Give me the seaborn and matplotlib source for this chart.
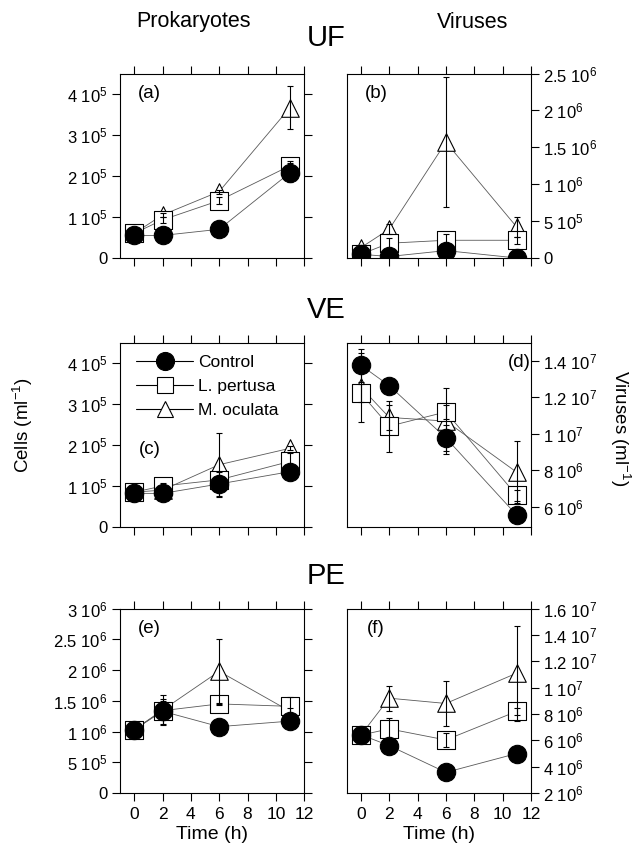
import numpy as np
import pandas as pd
import matplotlib
matplotlib.use('Agg')
import matplotlib.pyplot as plt
from matplotlib.lines import Line2D
import seaborn as sns

# sampling times (h) and treatments
times = [0, 2, 6, 11]
treatments = ['Control', 'L. pertusa', 'M. oculata']

# means / sd per panel, rows = Control, L. pertusa, M. oculata
a_mean = [[5.5e4, 5.5e4, 7.0e4, 2.08e5],
          [6.0e4, 9.3e4, 1.40e5, 2.25e5],
          [6.0e4, 1.05e5, 1.62e5, 3.67e5]]
a_sd = [[3e3, 3e3, 3e3, 2.3e4],
        [3e3, 8e3, 8e3, 1.2e4],
        [3e3, 5e3, 5e3, 5.2e4]]

b_mean = [[5e4, 2e4, 1.0e5, 0],
          [5e4, 2.0e5, 2.4e5, 2.4e5],
          [1.4e5, 3.9e5, 1.57e6, 4.2e5]]
b_sd = [[0, 0, 0, 0],
        [2e4, 7e4, 9e4, 5e4],
        [1e4, 7e4, 8.8e5, 1.3e5]]

c_mean = [[8.2e4, 8.2e4, 1.05e5, 1.35e5],
          [8.5e4, 1.0e5, 1.15e5, 1.60e5],
          [8.5e4, 9.0e4, 1.52e5, 1.92e5]]
c_sd = [[2e3, 2e3, 3e4, 5e3],
        [3e3, 8e3, 1e4, 2e4],
        [3e3, 5e3, 7.8e4, 5e3]]

d_mean = [[1.376e7, 1.264e7, 9.78e6, 5.55e6],
          [1.222e7, 1.042e7, 1.12e7, 6.63e6],
          [1.255e7, 1.09e7, 1.07e7, 7.9e6]]
d_sd = [[9e5, 0, 7e5, 0],
        [5e5, 1.4e6, 4e5, 3e5],
        [1.9e6, 7e5, 1.8e6, 1.7e6]]

e_mean = [[1.03e6, 1.33e6, 1.08e6, 1.17e6],
          [1.03e6, 1.34e6, 1.45e6, 1.41e6],
          [1.03e6, 1.35e6, 1.98e6, 1.33e6]]
e_sd = [[2e4, 2e5, 2e4, 2e4],
        [2e4, 1.5e5, 2e4, 1.5e5],
        [2e4, 2.5e5, 5.3e5, 5e4]]

f_mean = [[6.43e6, 5.6e6, 3.57e6, 5.0e6],
          [6.4e6, 6.87e6, 6.03e6, 8.2e6],
          [6.4e6, 9.2e6, 8.8e6, 1.11e7]]
f_sd = [[0, 0, 0, 0],
        [2e5, 8e5, 5.5e5, 2.5e5],
        [2e5, 9.5e5, 1.7e6, 3.6e6]]

prok_ticks = [0, 1e5, 2e5, 3e5, 4e5]
b_ticks = [0, 5e5, 1e6, 1.5e6, 2e6, 2.5e6]
d_ticks = [6e6, 8e6, 1e7, 1.2e7, 1.4e7]
e_ticks = [0, 5e5, 1e6, 1.5e6, 2e6, 2.5e6, 3e6]
f_ticks = [2e6, 4e6, 6e6, 8e6, 1e7, 1.2e7, 1.4e7, 1.6e7]
x_ticks = [0, 2, 4, 6, 8, 10, 12]


def sci(v):
    if v == 0:
        return '0'
    e = int(np.floor(np.log10(v) + 1e-9))
    return f'{v / 10**e:g} 10$^{{{e}}}$'


sns.set_style('ticks')
plt.rcParams['font.family'] = ['Liberation Sans', 'DejaVu Sans']
plt.rcParams['mathtext.fontset'] = 'custom'
plt.rcParams['mathtext.rm'] = 'Liberation Sans'
plt.rcParams['mathtext.default'] = 'regular'
for k in ['text.color', 'axes.labelcolor', 'xtick.color', 'ytick.color',
          'axes.edgecolor']:
    plt.rcParams[k] = 'black'

fig = plt.figure(figsize=(6.35, 8.5), dpi=100)

W, H = 0.290, 0.217
panels = [
    ('a', a_mean, a_sd, (0.189, 0.6965), (0, 4.5e5), prok_ticks, 'left'),
    ('b', b_mean, b_sd, (0.546, 0.6965), (0, 2.5e6), b_ticks, 'right'),
    ('c', c_mean, c_sd, (0.189, 0.380), (0, 4.5e5), prok_ticks, 'left'),
    ('d', d_mean, d_sd, (0.546, 0.380), (4.9e6, 1.5e7), d_ticks, 'right'),
    ('e', e_mean, e_sd, (0.189, 0.067), (0, 3e6), e_ticks, 'left'),
    ('f', f_mean, f_sd, (0.546, 0.067), (2e6, 1.6e7), f_ticks, 'right'),
]

markers = {'Control': 'o', 'L. pertusa': 's', 'M. oculata': '^'}
faces = {'Control': 'black', 'L. pertusa': 'white', 'M. oculata': 'white'}
sizes = {'Control': 175, 'L. pertusa': 150, 'M. oculata': 160}

for letter, mean, sd, (x0, y0), ylim, yticks, side in panels:
    ax = fig.add_axes([x0, y0, W, H])
    # draw order: M. oculata first, Control on top
    rows = []
    for name, m, s in zip(treatments[::-1], mean[::-1], sd[::-1]):
        for t, v, e in zip(times, m, s):
            rows.append({'time': t, 'value': v, 'sd': e, 'treatment': name})
    df = pd.DataFrame(rows)

    sns.lineplot(data=df, x='time', y='value', hue='treatment',
                 palette={k: '0.35' for k in treatments}, linewidth=0.6,
                 errorbar=None, legend=False, ax=ax, zorder=1)
    for name in treatments[::-1]:
        sub = df[df.treatment == name]
        sns.scatterplot(data=sub, x='time', y='value', marker=markers[name],
                        color=faces[name], edgecolor='black', linewidth=0.8,
                        s=sizes[name], legend=False, ax=ax, zorder=2)
        ax.errorbar(sub.time, sub.value, yerr=sub.sd, fmt='none',
                    ecolor='black', elinewidth=0.8, capsize=2.2,
                    capthick=0.8, zorder=3)

    ax.set_xlim(-1, 12)
    ax.set_ylim(*ylim)
    ax.set_xticks(x_ticks)
    ax.set_yticks(yticks)
    ax.set_yticklabels([sci(v) for v in yticks])
    ax.set_xlabel('')
    ax.set_ylabel('')
    for sp in ax.spines.values():
        sp.set_visible(True)
        sp.set_linewidth(0.8)
    ax.tick_params(direction='out', length=6, width=0.8, top=True)
    ax.tick_params(axis='x', labelsize=12.5, pad=4)
    ax.tick_params(axis='y', labelsize=12, pad=3)
    if side == 'right':
        ax.yaxis.tick_right()
        ax.tick_params(axis='y', left=False, right=True, direction='out',
                       length=6, width=0.8)
    else:
        ax.tick_params(axis='y', left=True, right=True)
    if letter in ('e', 'f'):
        ax.set_xlabel('Time (h)', fontsize=14, labelpad=3)
    else:
        ax.set_xticklabels([])

    if letter == 'd':
        lx, ly = 0.94, 0.89
    elif letter == 'c':
        lx, ly = 0.16, 0.42
    else:
        lx, ly = 0.16, 0.89
    ax.text(lx, ly, f'({letter})', transform=ax.transAxes, fontsize=13.5,
            ha='center', va='center')

    if letter == 'c':
        handles = [Line2D([], [], color='black', lw=0.8, marker=markers[n],
                          markersize=13 if n == 'Control' else 12,
                          markerfacecolor=faces[n], markeredgecolor='black',
                          markeredgewidth=0.8)
                   for n in treatments]
        ax.legend(handles, treatments, loc='upper left', frameon=False,
                  fontsize=12.5, handlelength=3.3, handletextpad=0.3,
                  labelspacing=0.5, borderaxespad=0.2,
                  bbox_to_anchor=(0.03, 0.99))

# column / row headings and axis titles
fig.text(193 / 635, 1 - 22 / 850, 'Prokaryotes', fontsize=15.5,
         ha='center', va='center')
fig.text(473 / 635, 1 - 22 / 850, 'Viruses', fontsize=15.5,
         ha='center', va='center')
for lab, yp in [('UF', 38), ('VE', 310), ('PE', 576)]:
    fig.text(326 / 635, 1 - yp / 850, lab, fontsize=21,
             ha='center', va='center')
fig.text(23 / 635, 1 - 425 / 850, 'Cells (ml$^{-1}$)', fontsize=13.5,
         rotation=90, ha='center', va='center')
fig.text(620 / 635, 1 - 428 / 850, 'Viruses (ml$^{-1}$)', fontsize=13.5,
         rotation=270, ha='center', va='center')

fig.savefig('out.png', dpi=100)
